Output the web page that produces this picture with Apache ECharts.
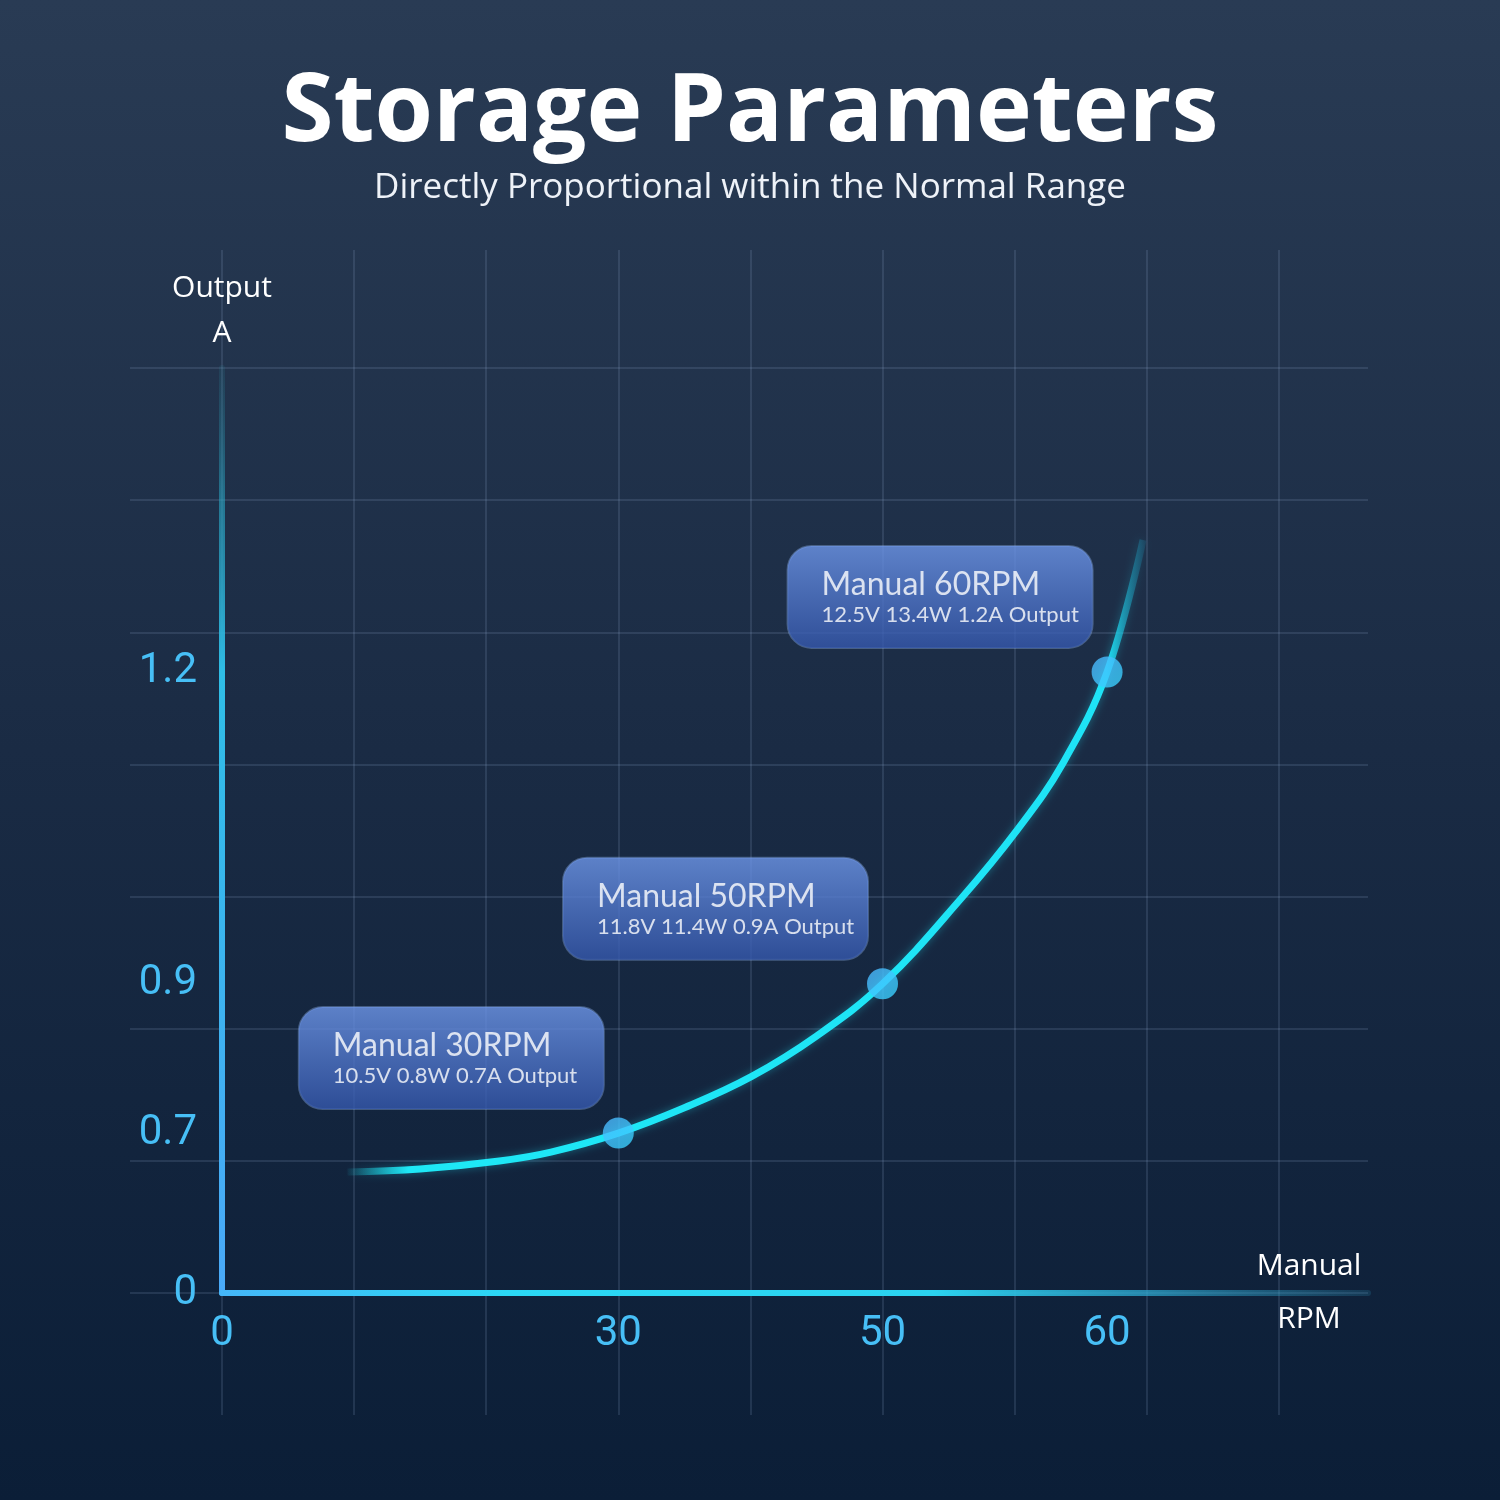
<!DOCTYPE html>
<html>
<head>
<meta charset="utf-8">
<script src="https://cdn.jsdelivr.net/npm/echarts@6/dist/echarts.min.js"></script>
<style>html,body{margin:0;padding:0;}#chart{width:1500px;height:1500px;}</style>
</head>
<body>
<div id="chart"></div>
<script>
// ---- data ----
const xTicks = [0, 30, 50, 60];          // Manual RPM tick labels
const yTicks = [0, 0.7, 0.9, 1.2];       // Output A tick labels
const pointRpm = [30, 50, 60];
const pointAmp = [0.7, 0.9, 1.2];
const pointVolt = ['10.5V', '11.8V', '12.5V'];
const pointWatt = ['0.8W', '11.4W', '13.4W'];
const curveRpm = [9.5, 15.0, 21.0, 24.9, 30, 35.0, 40.1, 45.0, 50, 53.5, 56.0, 58.0, 60, 61.6];
const curveAmp = [0.530, 0.543, 0.578, 0.617, 0.7, 0.734, 0.776, 0.830, 0.9, 0.982, 1.048, 1.111, 1.2, 1.327];

// ---- illustrative (non-linear) axis layout: grid-cell slot of each tick ----
const X_SLOTS = [0, 3, 5, 6.7];
const Y_SLOTS = [0, 1.21, 2.34, 4.70];
function warp(v, ticks, slots) {
  let i = 0;
  while (i < ticks.length - 2 && v > ticks[i + 1]) i++;
  const t = (v - ticks[i]) / (ticks[i + 1] - ticks[i]);
  return slots[i] + t * (slots[i + 1] - slots[i]);
}
const warpX = v => warp(v, xTicks, X_SLOTS);
const warpY = v => warp(v, yTicks, Y_SLOTS);
const fmtTick = (v, ticks, slots) => {
  for (let i = 0; i < slots.length; i++) if (Math.abs(slots[i] - v) < 1e-6) return String(ticks[i]);
  return '';
};

const X_MAX = 8.675, Y_MAX = 7;
const gridLineStyle = { color: 'rgba(150,175,210,0.16)', width: 2 };
const tickColor = '#47bff6';
const fontBox = 'Lato, "Noto Sans", sans-serif';
const fontHead = '"Open Sans", "Noto Sans", sans-serif';

const chart = echarts.init(document.getElementById('chart'), null, { renderer: 'canvas' });

const option = {
  backgroundColor: new echarts.graphic.LinearGradient(0, 0, 0, 1, [
    { offset: 0, color: '#293b54' },
    { offset: 0.5, color: '#1a2b44' },
    { offset: 1, color: '#0b1e37' }
  ]),
  animation: false,
  title: [
    {
      text: 'Storage Parameters',
      left: 'center', top: 62,
      textStyle: { color: '#ffffff', fontSize: 94.5, fontWeight: 'bold', fontFamily: fontHead }
    },
    {
      text: 'Directly Proportional within the Normal Range',
      left: 'center', top: 166,
      textStyle: { color: '#eef2f8', fontSize: 35, fontWeight: 'normal', fontFamily: fontHead }
    }
  ],
  grid: [
    { left: 222, right: 132, top: 250, bottom: 85 },   // vertical grid lines
    { left: 130, right: 132, top: 368, bottom: 207 },  // horizontal grid lines
    { left: 222, right: 132, top: 368, bottom: 207 }   // plot
  ],
  xAxis: [
    {
      gridIndex: 0, type: 'value', min: 0, max: X_MAX, interval: 1,
      axisLine: { show: false }, axisTick: { show: false }, axisLabel: { show: false },
      splitLine: { show: true, showMinLine: true, showMaxLine: false, lineStyle: gridLineStyle }
    },
    {
      gridIndex: 1, type: 'value', min: 0, max: 1,
      axisLine: { show: false }, axisTick: { show: false }, axisLabel: { show: false },
      splitLine: { show: false }
    },
    {
      gridIndex: 2, type: 'value', min: 0, max: X_MAX,
      name: 'Manual\nRPM', nameLocation: 'end', nameGap: -59,
      nameTextStyle: { color: '#ffffff', fontSize: 30, fontFamily: fontHead, align: 'center', verticalAlign: 'middle', lineHeight: 53, padding: [6, 0, 0, 0] },
      axisLine: {
        show: true, onZero: true,
        lineStyle: {
          width: 6,
          color: new echarts.graphic.LinearGradient(0, 0, 1, 0, [
            { offset: 0, color: '#45b6f8' },
            { offset: 0.25, color: '#2bd8f5' },
            { offset: 0.62, color: '#2bd3f0' },
            { offset: 0.8, color: 'rgba(45,170,210,0.75)' },
            { offset: 1, color: 'rgba(45,150,190,0.2)' }
          ])
        }
      },
      axisTick: { show: false },
      splitLine: { show: false },
      axisLabel: {
        customValues: xTicks.map(warpX),
        formatter: v => fmtTick(v, xTicks, X_SLOTS),
        color: tickColor, fontSize: 42, fontFamily: 'Roboto, sans-serif', margin: 20
      }
    }
  ],
  yAxis: [
    {
      gridIndex: 0, type: 'value', min: 0, max: 1,
      axisLine: { show: false }, axisTick: { show: false }, axisLabel: { show: false },
      splitLine: { show: false }
    },
    {
      gridIndex: 1, type: 'value', min: 0, max: Y_MAX, interval: 1,
      axisLine: { show: false }, axisTick: { show: false }, axisLabel: { show: false },
      splitLine: { show: true, showMinLine: true, showMaxLine: true, lineStyle: gridLineStyle }
    },
    {
      gridIndex: 2, type: 'value', min: 0, max: Y_MAX,
      name: 'Output\nA', nameLocation: 'end', nameGap: 12,
      nameTextStyle: { color: '#ffffff', fontSize: 30, fontFamily: fontHead, align: 'center', lineHeight: 45 },
      axisLine: {
        show: true,
        lineStyle: {
          width: 6,
          color: new echarts.graphic.LinearGradient(0, 0, 0, 1, [
            { offset: 0, color: 'rgba(40,130,150,0.15)' },
            { offset: 0.15, color: 'rgba(40,165,195,0.6)' },
            { offset: 0.33, color: '#2fbde6' },
            { offset: 1, color: '#4aa9f8' }
          ])
        }
      },
      axisTick: { show: false },
      splitLine: { show: false },
      axisLabel: {
        customValues: yTicks.map(warpY),
        formatter: v => fmtTick(v, yTicks, Y_SLOTS),
        color: tickColor, fontSize: 42, fontFamily: 'Roboto, sans-serif', margin: 25
      }
    }
  ],
  series: [
    {
      type: 'line',
      xAxisIndex: 2, yAxisIndex: 2,
      data: curveRpm.map((r, i) => [warpX(r), warpY(curveAmp[i])]),
      smooth: 0.4,
      showSymbol: false,
      z: 3,
      lineStyle: {
        width: 7,
        shadowColor: 'rgba(30,230,250,0.35)', shadowBlur: 8,
        color: new echarts.graphic.LinearGradient(0, 0, 1, 0, [
          { offset: 0, color: 'rgba(30,230,245,0)' },
          { offset: 0.08, color: '#1ee8f6' },
          { offset: 0.95, color: '#1ee3f6' },
          { offset: 1, color: 'rgba(30,150,190,0.15)' }
        ])
      }
    },
    {
      type: 'scatter',
      xAxisIndex: 2, yAxisIndex: 2,
      data: pointRpm.map((r, i) => [warpX(r), warpY(pointAmp[i])]),
      symbolSize: 31,
      z: 5,
      itemStyle: {
        color: new echarts.graphic.LinearGradient(0, 0, 1, 1, [
          { offset: 0, color: '#4cb6ff' },
          { offset: 1, color: '#36d2fd' }
        ])
      },
      label: {
        show: true,
        position: 'left',
        distance: 0,
        align: 'right',
        verticalAlign: 'bottom',
        offset: [1, -24],
        width: 241,
        padding: [22, 30, 20, 34],
        borderRadius: 24,
        borderColor: 'rgba(150,185,245,0.45)',
        borderWidth: 1,
        backgroundColor: new echarts.graphic.LinearGradient(0, 0, 0, 1, [
          { offset: 0, color: '#6e97ea' },
          { offset: 1, color: '#3457ac' }
        ]),
        formatter: p => `{a|Manual ${pointRpm[p.dataIndex]}RPM}\n{b|${pointVolt[p.dataIndex]} ${pointWatt[p.dataIndex]} ${pointAmp[p.dataIndex]}A Output}`,
        rich: {
          a: { color: '#ffffff', fontSize: 32, lineHeight: 34, fontFamily: fontBox, align: 'left' },
          b: { color: '#ffffff', fontSize: 22, lineHeight: 26, fontFamily: fontBox, align: 'left' }
        }
      }
    }
  ]
};
chart.setOption(option);
</script>
</body>
</html>
